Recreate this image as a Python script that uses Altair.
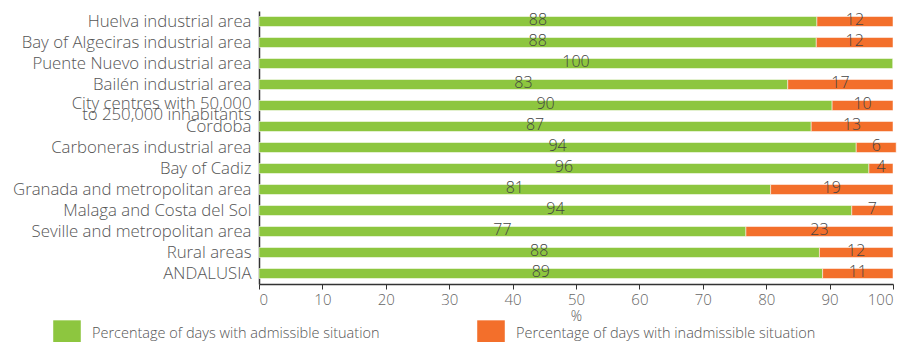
import altair as alt
import pandas as pd

categories = [
    "Huelva industrial area",
    "Bay of Algeciras industrial area",
    "Puente Nuevo industrial area",
    "Bailén industrial area",
    "City centres with 50,000|to 250,000 inhabitants",
    "Cordoba",
    "Carboneras industrial area",
    "Bay of Cadiz",
    "Granada and metropolitan area",
    "Malaga and Costa del Sol",
    "Seville and metropolitan area",
    "Rural areas",
    "ANDALUSIA",
]
admissible = [88.0, 87.9, 100.0, 83.4, 90.4, 87.1, 94.2, 96.2, 80.7, 93.5, 76.8, 88.4, 88.9]
inadmissible = [12.0, 12.1, 0.0, 16.6, 9.6, 12.9, 6.3, 3.8, 19.3, 6.5, 23.2, 11.6, 11.1]
series = ["Percentage of days with admissible situation",
          "Percentage of days with inadmissible situation"]
colors = ["#8dc63f", "#f36f2b"]
x_ticks = list(range(0, 101, 10))

rows = []
for c, a, b in zip(categories, admissible, inadmissible):
    rows.append({"category": c, "series": series[0], "value": a, "order": 0})
    rows.append({"category": c, "series": series[1], "value": b, "order": 1})
df = pd.DataFrame(rows)

FONT = "Open Sans"
MULTI = "indexof(datum.value, '|') >= 0"

base = alt.Chart(df).transform_stack(
    stack="value", groupby=["category"], sort=[alt.SortField("order")], as_=["x0", "x1"]
).transform_calculate(
    mid="(datum.x0 + datum.x1) / 2", lbl="round(datum.value)"
)

yenc = alt.Y("category:N", sort=categories, scale=alt.Scale(paddingInner=0.5, paddingOuter=0.25),
             axis=alt.Axis(title=None, labelExpr="split(datum.label, '|')", ticks=False,
                           domain=True, domainColor="#333", domainWidth=1.5,
                           labelPadding=8, labelFontSize=16.8,
                           labelOffset={"condition": {"test": MULTI, "value": -2}, "value": 0},
                           labelColor="#555", labelFontWeight=300,
                           labelLineHeight=11, labelFont=FONT, labelLimit=400))

bars = base.mark_bar(size=10, stroke="white", strokeOpacity=0.5, strokeWidth=1).encode(
    x=alt.X("x0:Q", scale=alt.Scale(domain=[0, 100], nice=False),
            axis=alt.Axis(values=x_ticks, title="%", grid=False, tickSize=5, tickColor="#333",
                          domainColor="#333", domainWidth=1.5, labelFontSize=15,
                          labelFontWeight=300,
                          labelColor="#666", labelFont=FONT, titleFont=FONT,
                          titleFontWeight=300, titleFontSize=14, titleColor="#555",
                          titlePadding=2, labelPadding=3)),
    x2="x1:Q",
    y=yenc,
    color=alt.Color("series:N", scale=alt.Scale(domain=series, range=colors),
                    legend=alt.Legend(title=None, orient="none", direction="horizontal",
                                      legendX=-206, legendY=309, padding=0,
                                      symbolType="square", symbolSize=760,
                                      symbolStrokeWidth=0, symbolOpacity=1,
                                      labelFontSize=14.5, labelColor="#555",
                                      labelFontWeight=300,
                                      labelFont=FONT, labelOffset=11, labelLimit=500,
                                      columnPadding=97)),
)

texts = base.transform_filter("datum.value > 0").mark_text(
    fontSize=16, color="#444", font=FONT, fontWeight=300, baseline="middle", dy=-2
).encode(
    x="mid:Q",
    y=alt.Y("category:N", sort=categories),
    text="lbl:Q",
)

chart = (bars + texts).properties(
    width=634, height=273,
    autosize=alt.AutoSizeParams(type="none"),
    padding={"left": 251, "top": 3, "right": 10, "bottom": 60},
).configure_view(stroke=None)

chart.save("out.html", embed_options={"renderer": "svg", "actions": False})
